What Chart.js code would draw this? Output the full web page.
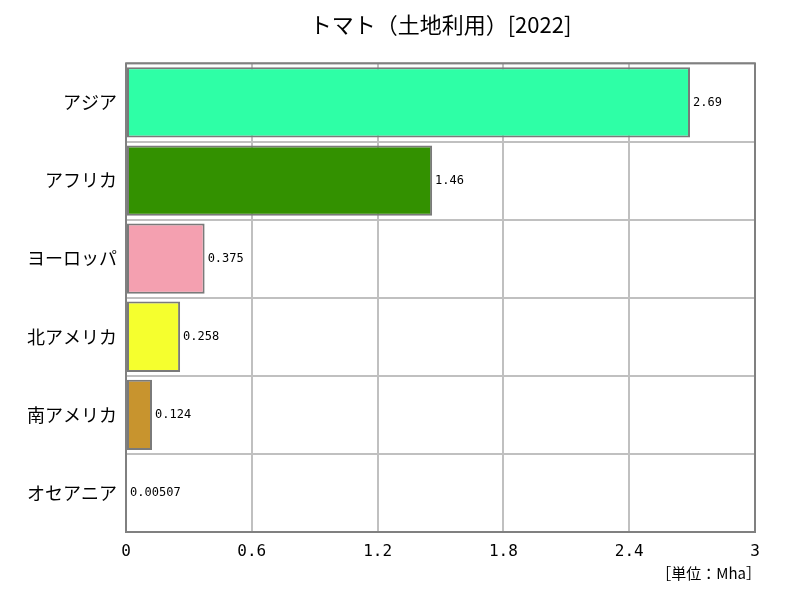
<!DOCTYPE html>
<html><head><meta charset="utf-8">
<script src="https://cdn.jsdelivr.net/npm/chart.js@4"></script>
<style>html,body{margin:0;padding:0;background:#fff}#wrap{width:800px;height:600px}</style>
</head><body><div id="wrap"><canvas id="c" width="800" height="600"></canvas></div>
<script>
const titleText = "トマト（土地利用）[2022]";
const unitText = "［単位：Mha］";
const categories = ["アジア","アフリカ","ヨーロッパ","北アメリカ","南アメリカ","オセアニア"];
const values = [2.69, 1.46, 0.375, 0.258, 0.124, 0.00507];
const valueLabels = ["2.69","1.46","0.375","0.258","0.124","0.00507"];
const barColors = ["#2effa6","#339100","#f4a0b0","#f5ff2e","#c8942e","#555555"];
const xTicks = [0, 0.6, 1.2, 1.8, 2.4, 3];

const JP = "'Noto Sans CJK JP', sans-serif";
const MONO = "'DejaVu Sans Mono', 'Noto Sans CJK JP', monospace";

const labelPlugin = {
  id: 'valueLabels',
  afterDatasetsDraw(chart) {
    const ctx = chart.ctx;
    const meta = chart.getDatasetMeta(0);
    ctx.save();
    ctx.font = "12px " + MONO;
    ctx.fillStyle = "#000";
    ctx.textBaseline = "middle";
    ctx.textAlign = "left";
    meta.data.forEach((bar, i) => {
      ctx.fillText(valueLabels[i], bar.x + 3, bar.y);
    });
    ctx.restore();
  },
  afterDraw(chart) {
    const ctx = chart.ctx;
    const a = chart.chartArea;
    ctx.save();
    ctx.strokeStyle = "#808080";
    ctx.lineWidth = 2;
    ctx.strokeRect(a.left, a.top, a.right - a.left, a.bottom - a.top);
    ctx.font = "15px " + JP;
    ctx.fillStyle = "#000";
    ctx.textAlign = "right";
    ctx.textBaseline = "middle";
    ctx.fillText(unitText, 761, 573);
    ctx.restore();
  }
};

new Chart(document.getElementById('c'), {
  type: 'bar',
  data: {
    labels: categories,
    datasets: [{
      data: values,
      backgroundColor: barColors,
      borderColor: "#7a7a7a",
      borderWidth: 2,
      borderSkipped: false,
      barPercentage: 0.9,
      categoryPercentage: 1.0
    }]
  },
  options: {
    indexAxis: 'y',
    responsive: false,
    animation: false,
    layout: { padding: { top: 0, left: 0, right: 45, bottom: 0 } },
    plugins: {
      legend: { display: false },
      tooltip: { enabled: false },
      title: {
        display: true,
        fullSize: false,
        text: titleText,
        color: "#000",
        font: { family: JP, size: 22, weight: 'normal' },
        padding: { top: 11, bottom: 26 }
      }
    },
    scales: {
      x: {
        min: 0, max: 3,
        afterBuildTicks(axis) { axis.ticks = xTicks.map(v => ({ value: v })); },
        afterFit(axis) { axis.height = 68; },
        grid: { color: "#c0c0c0", lineWidth: 2, drawTicks: false },
        border: { display: false },
        ticks: {
          color: "#000",
          font: { family: MONO, size: 16 },
          padding: 10,
          callback: (v) => String(v)
        }
      },
      y: {
        afterFit(axis) { axis.width = 126; },
        grid: { color: "#c0c0c0", lineWidth: 2, drawTicks: false, offset: true },
        border: { display: false },
        ticks: {
          color: "#000",
          font: { family: JP, size: 18 },
          padding: 9
        }
      }
    }
  },
  plugins: [labelPlugin]
});
</script>
</body></html>
